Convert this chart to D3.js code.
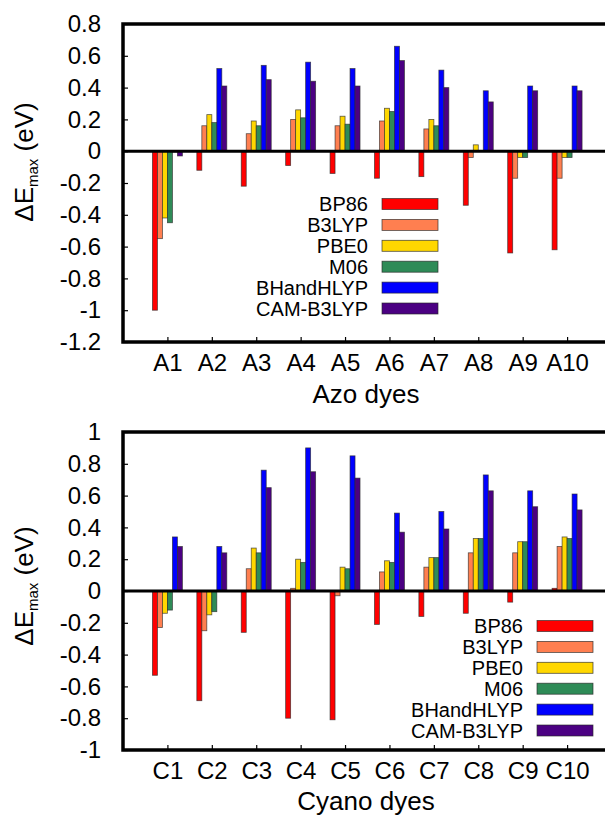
<!DOCTYPE html>
<html>
<head>
<meta charset="utf-8">
<script src="https://cdn.jsdelivr.net/npm/d3@7"></script>
<style>
  body { margin: 0; background: #fff; }
  svg { display: block; font-family: "Liberation Sans", Arial, sans-serif; }
</style>
</head>
<body>
<div id="chart"></div>
<script>
// delta E max bar charts, azo dyes (top) and cyano dyes (bottom)

const methods = ["BP86", "B3LYP", "PBE0", "M06", "BHandHLYP", "CAM-B3LYP"];
const methodColors = ["#ff0000", "#ff7f50", "#ffd700", "#2e8b57", "#0000ff", "#4b0082"];

const azoDyes = ["A1", "A2", "A3", "A4", "A5", "A6", "A7", "A8", "A9", "A10"];
const azoBP86      = [-1.00, -0.12, -0.22, -0.09, -0.14, -0.17, -0.16, -0.34, -0.64, -0.62];
const azoB3LYP     = [-0.55,  0.16,  0.11,  0.20,  0.16,  0.19,  0.14, -0.04, -0.17, -0.17];
const azoPBE0      = [-0.42,  0.23,  0.19,  0.26,  0.22,  0.27,  0.20,  0.04, -0.04, -0.04];
const azoM06       = [-0.45,  0.18,  0.16,  0.21,  0.17,  0.25,  0.16,  0.005, -0.04, -0.04];
const azoBHandHLYP = [-0.005, 0.52,  0.54,  0.56,  0.52,  0.66,  0.51,  0.38,  0.41,  0.41];
const azoCAMB3LYP  = [-0.03,  0.41,  0.45,  0.44,  0.41,  0.57,  0.40,  0.31,  0.38,  0.38];
const azoTicks = [0.8, 0.6, 0.4, 0.2, 0, -0.2, -0.4, -0.6, -0.8, -1, -1.2];

const cyanoDyes = ["C1", "C2", "C3", "C4", "C5", "C6", "C7", "C8", "C9", "C10"];
const cyanoBP86      = [-0.53, -0.69, -0.26, -0.80, -0.81, -0.21, -0.16, -0.14, -0.07, 0.017];
const cyanoB3LYP     = [-0.23, -0.25,  0.14,  0.017, -0.03, 0.12,  0.15,  0.24,  0.24,  0.28];
const cyanoPBE0      = [-0.14, -0.15,  0.27,  0.20,  0.15,  0.19,  0.21,  0.33,  0.31,  0.34];
const cyanoM06       = [-0.12, -0.13,  0.24,  0.18,  0.14,  0.18,  0.21,  0.33,  0.31,  0.33];
const cyanoBHandHLYP = [ 0.34,  0.28,  0.76,  0.90,  0.85,  0.49,  0.50,  0.73,  0.63,  0.61];
const cyanoCAMB3LYP  = [ 0.28,  0.24,  0.65,  0.75,  0.71,  0.37,  0.39,  0.63,  0.53,  0.51];
const cyanoTicks = [1, 0.8, 0.6, 0.4, 0.2, 0, -0.2, -0.4, -0.6, -0.8, -1];

const W = 605, H = 816;

const svg = d3.select("#chart").append("svg")
  .attr("width", W)
  .attr("height", H);

// gnuplot style labels: hyphen minus, no trailing zeros
const fmtTick = v => String(+v.toFixed(1)).replace("\u2212", "-");

function drawPanel(opts) {
  const { cats, series, ticks, yDomain, top, bottom, xTitle, titleY, legend, ylabelY } = opts;

  const x = d3.scaleLinear().domain([0, cats.length + 1]).range([123, 611.5]);
  const y = d3.scaleLinear().domain(yDomain).range([bottom, top]);
  const step = x(1) - x(0);
  const sub = d3.scaleBand().domain(methods).range([-0.3375 * step, 0.3375 * step]);

  const g = svg.append("g");

  // bars
  methods.forEach((m, mi) => {
    g.selectAll(null)
      .data(series[mi])
      .enter()
      .append("rect")
      .attr("x", (d, i) => x(i + 1) + sub(m))
      .attr("y", d => y(Math.max(0, d)))
      .attr("width", sub.bandwidth())
      .attr("height", d => Math.abs(y(d) - y(0)))
      .attr("fill", methodColors[mi])
      .attr("stroke", "rgba(40,40,40,0.75)")
      .attr("stroke-width", 0.8);
  });

  // zero line
  g.append("line")
    .attr("x1", x(0)).attr("x2", W)
    .attr("y1", y(0)).attr("y2", y(0))
    .attr("stroke", "#000")
    .attr("stroke-width", 3);

  // y axis
  const yAxis = g.append("g")
    .attr("transform", `translate(${x(0)},0)`)
    .call(d3.axisLeft(y).tickValues(ticks).tickFormat(fmtTick).tickSize(-5).tickPadding(22));
  yAxis.select(".domain").remove();
  yAxis.selectAll("line").attr("stroke-width", 1.2);
  yAxis.selectAll("text").attr("font-size", "24px").attr("fill", "#000")
    .attr("font-family", "'Liberation Sans', Arial, sans-serif");

  // x axis
  const xAxis = g.append("g")
    .attr("transform", `translate(0,${bottom})`)
    .call(d3.axisBottom(x).tickValues(d3.range(1, cats.length + 1))
      .tickFormat(i => cats[i - 1]).tickSize(-5).tickPadding(12));
  xAxis.select(".domain").remove();
  xAxis.selectAll("line").attr("stroke-width", 1.2);
  xAxis.selectAll("text").attr("font-size", "24px").attr("fill", "#000")
    .attr("font-family", "'Liberation Sans', Arial, sans-serif");

  // frame (right side runs past the picture)
  g.append("rect")
    .attr("x", x(0)).attr("y", top)
    .attr("width", x(cats.length + 1) - x(0))
    .attr("height", bottom - top)
    .attr("fill", "none")
    .attr("stroke", "#000")
    .attr("stroke-width", 3.5);

  // x title
  g.append("text")
    .attr("x", 366)
    .attr("y", titleY)
    .attr("text-anchor", "middle")
    .attr("font-size", "26px")
    .text(xTitle);

  // y title
  const yl = g.append("text")
    .attr("transform", `translate(33,${ylabelY}) rotate(-90)`)
    .attr("text-anchor", "middle")
    .attr("font-size", "26px");
  yl.append("tspan").text("\u0394E");
  yl.append("tspan").attr("font-size", "15px").attr("dy", 5).text("max");
  yl.append("tspan").attr("dy", -5).text(" (eV)");

  // legend
  const lg = g.append("g");
  methods.forEach((m, mi) => {
    const cy = legend.y + mi * 20.9;
    lg.append("text")
      .attr("x", legend.textX)
      .attr("y", cy)
      .attr("dy", "0.36em")
      .attr("text-anchor", "end")
      .attr("font-size", "20px")
      .text(m);
    lg.append("rect")
      .attr("x", legend.textX + 14)
      .attr("y", cy - 5.5)
      .attr("width", 56)
      .attr("height", 11)
      .attr("fill", methodColors[mi])
      .attr("stroke", "rgba(40,40,40,0.8)")
      .attr("stroke-width", 0.8);
  });
}

drawPanel({
  cats: azoDyes,
  series: [azoBP86, azoB3LYP, azoPBE0, azoM06, azoBHandHLYP, azoCAMB3LYP],
  ticks: azoTicks,
  yDomain: [-1.2, 0.8],
  top: 24, bottom: 342,
  xTitle: "Azo dyes", titleY: 403,
  legend: { textX: 368, y: 204 },
  ylabelY: 162
});

drawPanel({
  cats: cyanoDyes,
  series: [cyanoBP86, cyanoB3LYP, cyanoPBE0, cyanoM06, cyanoBHandHLYP, cyanoCAMB3LYP],
  ticks: cyanoTicks,
  yDomain: [-1, 1],
  top: 432, bottom: 750,
  xTitle: "Cyano dyes", titleY: 810,
  legend: { textX: 523, y: 626 },
  ylabelY: 586
});
</script>
</body>
</html>
